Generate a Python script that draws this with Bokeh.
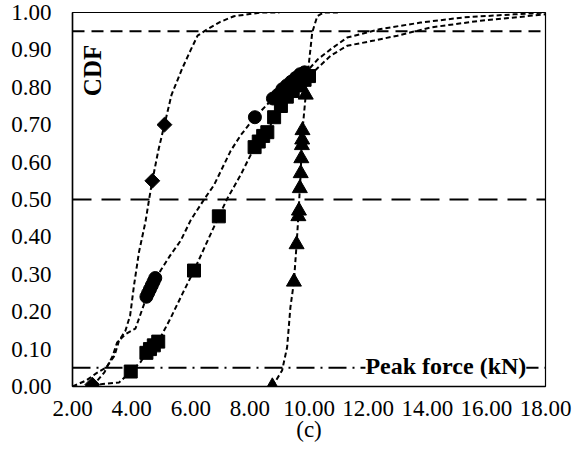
import numpy as np
from bokeh.plotting import figure
from bokeh.models import Range1d, FixedTicker, PrintfTickFormatter, Span, Label
from bokeh.embed import file_html
from bokeh.resources import INLINE

# ---------------- data ----------------
x_ticks = [2, 4, 6, 8, 10, 12, 14, 16, 18]
y_ticks = [0.0, 0.1, 0.2, 0.3, 0.4, 0.5, 0.6, 0.7, 0.8, 0.9, 1.0]

diamond_x = [2.67, 4.70, 5.11]
diamond_y = [0.005, 0.55, 0.70]

circle_x = [4.50, 4.56, 4.62, 4.68, 4.74, 4.80, 8.17, 8.78, 8.95, 9.10, 9.25, 9.40, 9.55, 9.70, 9.85]
circle_y = [0.24, 0.25, 0.26, 0.27, 0.28, 0.29, 0.72, 0.77, 0.78, 0.795, 0.805, 0.815, 0.825, 0.835, 0.84]

square_x = [3.97, 4.50, 4.62, 4.75, 4.90, 6.11, 6.95, 8.16, 8.30, 8.45, 8.59, 8.82, 9.05, 9.25, 9.45, 9.65, 9.85, 10.00]
square_y = [0.04, 0.09, 0.10, 0.11, 0.12, 0.31, 0.455, 0.64, 0.655, 0.67, 0.68, 0.72, 0.75, 0.775, 0.79, 0.805, 0.82, 0.83]

tri_x = [8.76, 9.49, 9.58, 9.64, 9.66, 9.69, 9.72, 9.74, 9.76, 9.77, 9.78, 9.89]
tri_y = [0.00, 0.28, 0.38, 0.455, 0.47, 0.53, 0.57, 0.61, 0.645, 0.66, 0.685, 0.78]

# fitted CDF curves (dashed)
fit_d_x = [2.00, 2.46, 2.80, 3.14, 3.42, 3.57, 3.79, 3.95, 4.08, 4.25, 4.47, 4.59, 4.70, 4.90, 5.11, 5.35, 5.71, 6.00, 6.23, 6.56, 7.00, 7.46, 8.37, 9.00]
fit_d_y = [0.00, 0.016, 0.035, 0.051, 0.082, 0.122, 0.149, 0.19, 0.27, 0.36, 0.441, 0.50, 0.55, 0.63, 0.70, 0.78, 0.85, 0.90, 0.938, 0.955, 0.975, 0.99, 1.0, 1.0]

fit_c_x = [2.67, 3.08, 3.36, 3.51, 3.80, 4.13, 4.42, 4.53, 4.70, 4.98, 5.30, 5.66, 6.00, 6.45, 6.79, 7.06, 7.35, 7.69, 8.17, 8.78, 9.30, 9.90, 10.30, 10.74, 11.29, 12.42, 13.77, 15.25, 16.93, 18.00]
fit_c_y = [0.00, 0.038, 0.082, 0.118, 0.14, 0.155, 0.22, 0.24, 0.265, 0.31, 0.35, 0.39, 0.445, 0.50, 0.539, 0.583, 0.63, 0.672, 0.72, 0.77, 0.80, 0.84, 0.875, 0.902, 0.933, 0.956, 0.973, 0.987, 0.995, 1.0]

fit_s_x = [2.67, 3.02, 3.58, 3.97, 4.30, 4.50, 4.62, 4.75, 4.90, 5.30, 5.70, 6.11, 6.56, 6.95, 7.24, 7.69, 8.16, 8.30, 8.45, 8.59, 8.82, 9.05, 9.25, 9.60, 10.00, 10.74, 11.29, 12.20, 12.99, 14.11, 15.80, 18.00]
fit_s_y = [0.00, 0.007, 0.011, 0.04, 0.065, 0.09, 0.10, 0.11, 0.12, 0.18, 0.245, 0.31, 0.388, 0.455, 0.503, 0.566, 0.64, 0.655, 0.67, 0.68, 0.72, 0.75, 0.775, 0.80, 0.83, 0.885, 0.911, 0.925, 0.938, 0.96, 0.978, 0.995]

fit_t_x = [8.76, 9.09, 9.26, 9.37, 9.49, 9.58, 9.64, 9.69, 9.72, 9.75, 9.78, 9.89, 10.00, 10.11, 10.28, 10.50, 11.00]
fit_t_y = [0.00, 0.043, 0.105, 0.211, 0.28, 0.38, 0.455, 0.53, 0.57, 0.645, 0.685, 0.78, 0.867, 0.947, 0.99, 1.0, 1.0]

ref_levels = [0.95, 0.50, 0.05]
ref_dashes = ["12 7", "19 10", "18 6 2 6"]

FONT = "Liberation Serif"

# ---------------- figure ----------------
p = figure(width=584, height=455, output_backend="svg", toolbar_location=None,
           x_range=Range1d(2, 18), y_range=Range1d(0, 1),
           min_border_left=72, min_border_right=39, min_border_top=12, min_border_bottom=69)
p.background_fill_color = "white"
p.border_fill_color = "white"
p.outline_line_color = "black"
p.outline_line_width = 1.2
p.grid.visible = False

for ax in (p.xaxis[0], p.yaxis[0]):
    ax.major_tick_in = 0
    ax.major_tick_out = 0
    ax.minor_tick_in = 0
    ax.minor_tick_out = 0
    ax.axis_line_color = "black"
    ax.axis_line_width = 1.5
    ax.major_label_text_font = FONT
    ax.major_label_text_font_size = "23px"
    ax.major_label_text_color = "black"
    ax.formatter = PrintfTickFormatter(format="%.2f")

p.xaxis.ticker = FixedTicker(ticks=x_ticks)
p.yaxis.ticker = FixedTicker(ticks=y_ticks)
p.xaxis.major_label_standoff = 14
p.yaxis.major_label_standoff = 21
p.xaxis.axis_label = "(c)"
p.xaxis.axis_label_text_font = FONT
p.xaxis.axis_label_text_font_size = "23px"
p.xaxis.axis_label_text_font_style = "normal"
p.xaxis.axis_label_text_color = "black"
p.xaxis.axis_label_standoff = -2

for lvl, dash in zip(ref_levels, ref_dashes):
    p.add_layout(Span(location=lvl, dimension="width", line_color="black",
                      line_width=2, line_dash=dash))

for fx, fy in ((fit_d_x, fit_d_y), (fit_c_x, fit_c_y), (fit_s_x, fit_s_y), (fit_t_x, fit_t_y)):
    p.line(fx, fy, line_color="black", line_width=2, line_dash="5 3")

p.scatter(diamond_x, diamond_y, marker="square", angle=np.pi / 4, size=10.5,
          fill_color="black", line_color="black")
p.scatter(circle_x, circle_y, marker="circle", size=13, fill_color="black", line_color="black")
p.scatter(square_x, square_y, marker="square", size=13, fill_color="black", line_color="black")
p.scatter(tri_x, tri_y, marker="triangle", size=15, fill_color="black", line_color="black")

p.add_layout(Label(x=2.68, y=0.845, text="CDF", angle=np.pi / 2,
                   text_font=FONT, text_font_size="25px", text_font_style="bold",
                   text_align="center", text_baseline="middle", text_color="black"))
p.add_layout(Label(x=11.91, y=0.055, text="Peak force (kN)",
                   text_font=FONT, text_font_size="24px", text_font_style="bold",
                   text_align="left", text_baseline="middle", text_color="black",
                   background_fill_color="white"))

open("out.html", "w").write(file_html(p, INLINE))
